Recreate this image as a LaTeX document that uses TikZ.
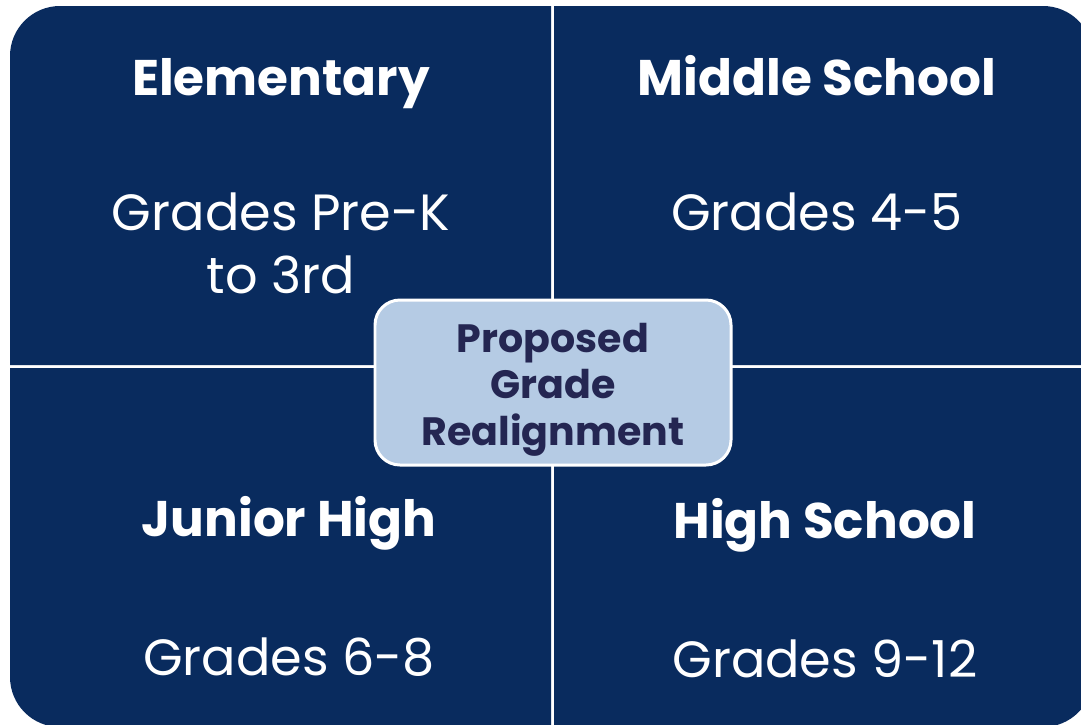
\documentclass[tikz,border=0pt]{standalone}
\usepackage{fontspec}
\setmainfont{Poppins}
\definecolor{navy}{RGB}{9,43,94}
\definecolor{pale}{RGB}{181,203,228}
\definecolor{ink}{RGB}{36,38,82}
\begin{document}
\begin{tikzpicture}[x=0.02cm,y=-0.02cm,
  quad/.style={fill=navy},
  head/.style={text=white,font=\bfseries\fontsize{28.5}{32}\selectfont,anchor=base,inner sep=0pt},
  body/.style={text=white,font=\fontsize{29}{35.8}\selectfont,align=center,anchor=base,inner sep=0pt},
  hubbox/.style={rounded corners=0.5cm,fill=pale,draw=white,line width=1.7pt},
  hubtext/.style={text=ink,align=center,anchor=base,inner sep=0pt,
    font=\bfseries\fontsize{22.5}{26.2}\selectfont}]
\useasboundingbox (0,0) rectangle (1081,724);
\clip (0,0) rectangle (1081,724);
\fill[white] (0,0) rectangle (1081,724);
% quadrants
\fill[quad] (10,365) [rounded corners=1cm] -- (10,6) [sharp corners] -- (551,6) -- (551,365) -- cycle;
\fill[quad] (554,6) [rounded corners=1cm] -- (1093,6) [sharp corners] -- (1093,365) -- (554,365) -- cycle;
\fill[quad] (10,368) -- (551,368) -- (551,727) [rounded corners=1cm] -- (10,727) [sharp corners] -- cycle;
\fill[quad] (554,368) -- (1093,368) [rounded corners=1cm] -- (1093,727) [sharp corners] -- (554,727) -- cycle;
% texts
\node[head] (elem) at (281,95) {Elementary};
\node[head] (mid) at (817,95) {Middle School};
\node[head] (jun) at (289,536) {Junior High};
\node[head] (high) at (825,538) {High School};
\node[body] (elemg) at (281,293) {Grades Pre-K\\to 3rd};
\node[body] (midg) at (817,230) {Grades 4-5};
\node[body] (jung) at (289,675) {Grades 6-8};
\node[body] (highg) at (825,677) {Grades 9-12};
% centre
\draw[hubbox] (375,300) rectangle (731,465);
\node[hubtext] (center) at (553,445) {Proposed\\Grade\\Realignment};
\end{tikzpicture}
\end{document}
